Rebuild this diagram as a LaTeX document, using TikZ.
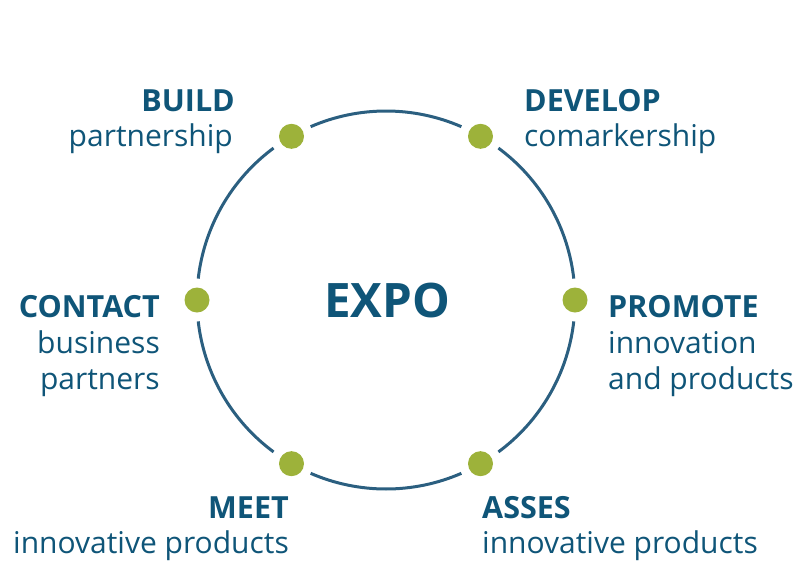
\documentclass[tikz,border=0pt]{standalone}
\usepackage{fontspec}
\setmainfont{Open Sans}
\usetikzlibrary{calc}
\definecolor{txt}{HTML}{0F5578}
\definecolor{ring}{HTML}{2B5F80}
\definecolor{dotg}{HTML}{9DB23A}
\begin{document}
\begin{tikzpicture}[x=1pt,y=-1pt,
  dotnode/.style={circle,fill=dotg,inner sep=0pt,minimum size=25pt},
  ringline/.style={draw=ring,line width=3pt},
  head/.style={inner sep=0pt,text=txt,font=\fontsize{30.5}{34}\selectfont\bfseries},
  sub/.style={inner sep=0pt,text=txt,font=\fontsize{30}{36}\selectfont}]
\useasboundingbox (0,0) rectangle (800,571);
\coordinate (c) at (386,300);
\foreach \a/\n in {0/d0,60/d1,120/d2,180/d3,240/d4,300/d5}{
  \node[dotnode] (\n) at ($(c)+(\a:189)$) {};
  \draw[ringline] ($(c)+(\a+6.5:189)$) arc[start angle=\a+6.5,end angle=\a+53.5,radius=189];
}
\node[inner sep=0pt,text=txt,font=\fontsize{47.5}{50}\selectfont\bfseries,anchor=base] (expo) at (387,317) {EXPO};
% BUILD
\node[head,anchor=base east] (build) at (235,111) {BUILD};
\node[sub,anchor=base east] (buildsub) at (233,146) {partnership};
% DEVELOP
\node[head,anchor=base west] (develop) at (524,111) {DEVELOP};
\node[sub,anchor=base west] (developsub) at (524,146) {comarkership};
% CONTACT
\node[head,anchor=base east] (contact) at (160,317) {CONTACT};
\node[sub,anchor=base east] (contact1) at (160,353) {business};
\node[sub,anchor=base east] (contact2) at (160,389) {partners};
% PROMOTE
\node[head,anchor=base west] (promote) at (608,317) {PROMOTE};
\node[sub,anchor=base west] (promote1) at (608,353) {innovation};
\node[sub,anchor=base west] (promote2) at (608,389) {and products};
% MEET
\node[head,anchor=base east] (meet) at (289,518) {MEET};
\node[sub,anchor=base east] (meetsub) at (289,553) {innovative products};
% ASSES
\node[head,anchor=base west] (asses) at (482,518) {ASSES};
\node[sub,anchor=base west] (assessub) at (482,553) {innovative products};
\end{tikzpicture}
\end{document}
